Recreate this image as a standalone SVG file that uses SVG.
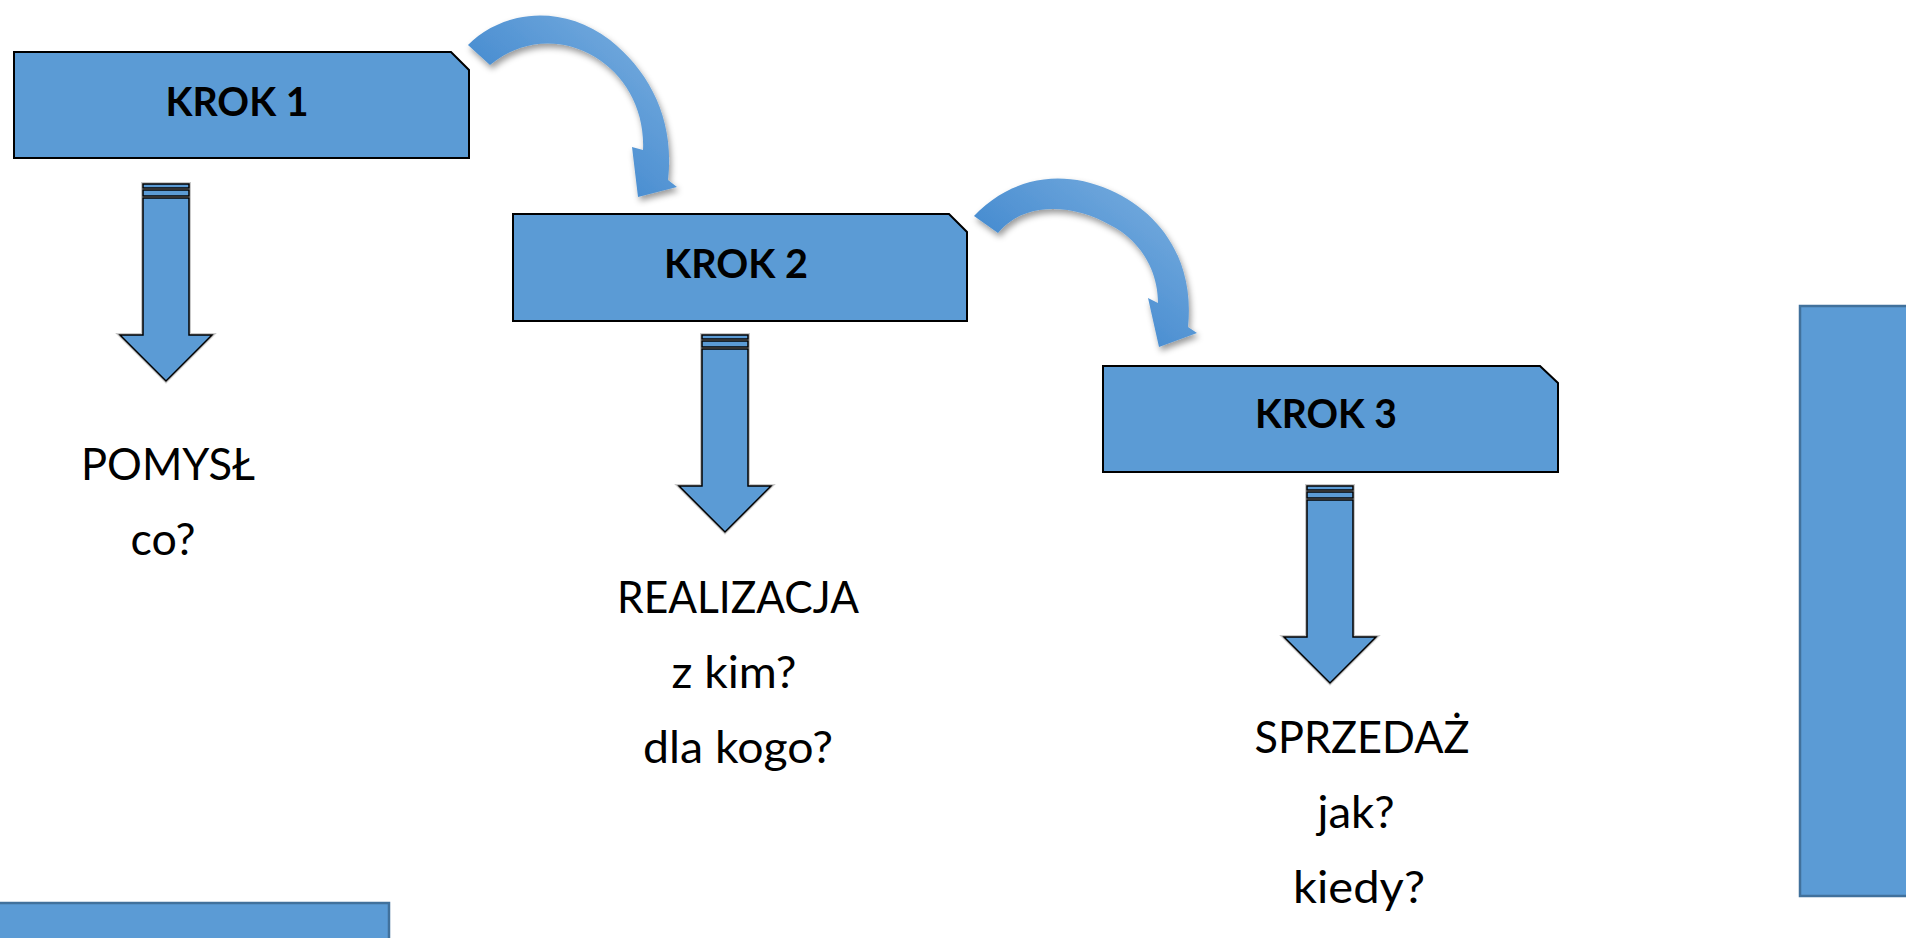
<svg xmlns="http://www.w3.org/2000/svg" xmlns:xlink="http://www.w3.org/1999/xlink" width="1906" height="938" viewBox="0 0 1906 938">
  <style>
    .box { fill: #5B9BD5; stroke: #000; stroke-width: 2; stroke-linejoin: miter; }
    .panel { fill: #5B9BD5; stroke: #41719C; stroke-width: 2.5; }
    .ttl { font-family: Lato, "Open Sans", sans-serif; font-weight: 700; font-size: 40px; fill: #000; text-anchor: middle; }
    .lbl { font-family: Lato, "Open Sans", sans-serif; font-weight: 400; font-size: 44px; fill: #000; text-anchor: middle; }
    .dshape { fill: #5B9BD5; stroke: #000; stroke-width: 1.5; }
    .dhalo { fill: none; stroke: #c9c9c9; stroke-width: 4; }
    .curve { fill: url(#curveGrad); filter: url(#shadow); }
  </style>
  <defs>
    <linearGradient id="curveGrad" x1="0.15" y1="0.85" x2="0.85" y2="0.15">
      <stop offset="0" stop-color="#3E84CB"/>
      <stop offset="0.35" stop-color="#4A8ED1"/>
      <stop offset="1" stop-color="#72A9DD"/>
    </linearGradient>
    <filter id="shadow" x="-20%" y="-20%" width="140%" height="140%">
      <feDropShadow dx="2" dy="4" stdDeviation="3" flood-color="#000" flood-opacity="0.4"/>
    </filter>
    <g id="downArrow">
      <rect class="dhalo" x="-23" y="0" width="46" height="4"/>
      <rect class="dhalo" x="-23" y="6" width="46" height="6"/>
      <path class="dhalo" d="M-23,14 H23 V151 H46 L0,197 L-46,151 H-23 Z"/>
      <rect class="dshape" x="-23" y="0" width="46" height="4"/>
      <rect class="dshape" x="-23" y="6" width="46" height="6"/>
      <path class="dshape" d="M-23,14 H23 V151 H46 L0,197 L-46,151 H-23 Z"/>
    </g>
  </defs>

  <rect width="1906" height="938" fill="#ffffff"/>

  <g id="panel-right">
    <rect class="panel" x="1800" y="306" width="120" height="590"/>
  </g>
  <g id="panel-bottom">
    <rect class="panel" x="-10" y="903" width="399" height="60"/>
  </g>

  <g id="connectors">
    <path class="curve" d="M468,45 C500,12 560,2 610,40 C650,72 675,120 668,180 L677,187 L638,197 L632,147 L643,150 C645,110 625,75 595,57 C560,36 520,40 490,65 Z"/>
    <path class="curve" d="M974,216 C1010,178 1060,168 1110,190 C1160,212 1195,260 1188,327 L1197,333 L1159,347 L1148,298 L1158,303 C1158,270 1140,240 1110,225 C1075,205 1025,200 998,233 Z"/>
    <use xlink:href="#downArrow" transform="translate(166,184)"/>
    <use xlink:href="#downArrow" transform="translate(725,335)"/>
    <use xlink:href="#downArrow" transform="translate(1330,486)"/>
  </g>

  <g id="krok1">
    <path class="box" d="M14,52 H451 L469,70 V158 H14 Z"/>
    <text class="ttl" x="237" y="116" textLength="143" lengthAdjust="spacingAndGlyphs">KROK 1</text>
  </g>
  <g id="krok2">
    <path class="box" d="M513,214 H949 L967,232 V321 H513 Z"/>
    <text class="ttl" x="736" y="278" textLength="144" lengthAdjust="spacingAndGlyphs">KROK 2</text>
  </g>
  <g id="krok3">
    <path class="box" d="M1103,366 H1540 L1558,383 V472 H1103 Z"/>
    <text class="ttl" x="1326" y="428" textLength="142" lengthAdjust="spacingAndGlyphs">KROK 3</text>
  </g>

  <g id="pomysl">
    <text class="lbl" x="168" y="480" textLength="174" lengthAdjust="spacingAndGlyphs">POMYSŁ</text>
    <text class="lbl" x="163" y="555" textLength="65" lengthAdjust="spacingAndGlyphs">co?</text>
  </g>
  <g id="realizacja">
    <text class="lbl" x="738" y="613" textLength="242" lengthAdjust="spacingAndGlyphs">REALIZACJA</text>
    <text class="lbl" x="734" y="688" textLength="125" lengthAdjust="spacingAndGlyphs">z kim?</text>
    <text class="lbl" x="738" y="763" textLength="190" lengthAdjust="spacingAndGlyphs">dla kogo?</text>
  </g>
  <g id="sprzedaz">
    <text class="lbl" x="1362" y="753" textLength="215" lengthAdjust="spacingAndGlyphs">SPRZEDAŻ</text>
    <text class="lbl" x="1356" y="828" textLength="77" lengthAdjust="spacingAndGlyphs">jak?</text>
    <text class="lbl" x="1359" y="903" textLength="132" lengthAdjust="spacingAndGlyphs">kiedy?</text>
  </g>
</svg>
